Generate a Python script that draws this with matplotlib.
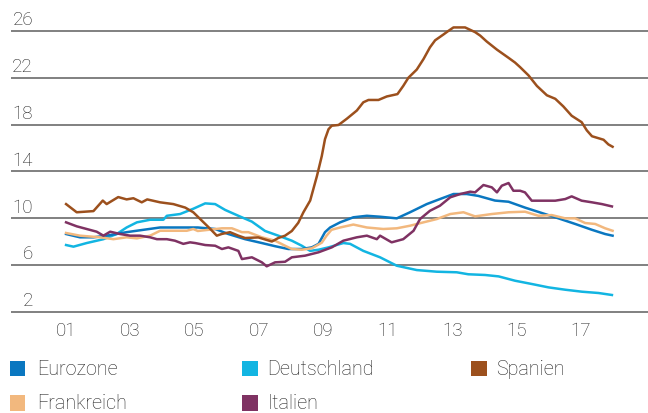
import matplotlib
matplotlib.use("Agg")
import matplotlib.pyplot as plt
from matplotlib.patches import Rectangle

# Arbeitslosenquote in %, Zeitachse als Dezimaljahr
ez_x = [2001.01, 2001.44, 2001.86, 2002.27, 2002.89, 2003.41, 2003.93, 2004.34, 2004.76,
        2005.10, 2005.64, 2006.05, 2006.57, 2007.09, 2007.50, 2007.91, 2008.33, 2008.64,
        2008.85, 2009.05, 2009.21, 2009.52, 2009.93, 2010.35, 2010.76, 2011.28, 2011.69,
        2012.21, 2012.62, 2013.04, 2013.45, 2013.81, 2014.33, 2014.75, 2015.26, 2015.78,
        2016.30, 2016.82, 2017.34, 2017.75, 2017.98]
ez_y = [8.64, 8.36, 8.36, 8.5, 8.8, 9.0, 9.2, 9.2, 9.2,
        9.2, 9.07, 8.64, 8.2, 7.87, 7.6, 7.36, 7.36, 7.5,
        7.8, 8.8, 9.2, 9.64, 10.07, 10.2, 10.12, 9.98, 10.5,
        11.2, 11.63, 12.06, 12.06, 11.9, 11.5, 11.4, 10.9, 10.44,
        9.98, 9.5, 9.0, 8.64, 8.5]

de_x = [2001.01, 2001.24, 2001.65, 2002.17, 2002.58, 2002.89, 2003.21, 2003.62, 2004.03,
        2004.14, 2004.55, 2004.96, 2005.33, 2005.64, 2005.95, 2006.36, 2006.78, 2007.19,
        2007.60, 2008.02, 2008.33, 2008.59, 2008.85, 2009.16, 2009.62, 2009.83, 2010.24,
        2010.76, 2011.28, 2011.90, 2012.52, 2013.14, 2013.50, 2014.02, 2014.44, 2014.95,
        2015.47, 2015.99, 2016.51, 2017.03, 2017.54, 2017.96]
de_y = [7.7, 7.56, 7.87, 8.2, 8.64, 9.2, 9.64, 9.86, 9.86,
        10.2, 10.35, 10.8, 11.26, 11.2, 10.7, 10.2, 9.7, 8.9,
        8.5, 8.07, 7.64, 7.2, 7.3, 7.5, 7.87, 7.8, 7.2,
        6.65, 5.93, 5.56, 5.42, 5.37, 5.2, 5.14, 5.02, 4.65,
        4.37, 4.08, 3.88, 3.71, 3.6, 3.43]

es_x = [2001.01, 2001.34, 2001.86, 2002.15, 2002.27, 2002.63, 2002.89, 2003.10, 2003.36,
        2003.53, 2003.93, 2004.34, 2004.71, 2004.96, 2005.22, 2005.48, 2005.69, 2005.85,
        2006.10, 2006.36, 2006.57, 2006.98, 2007.40, 2007.60, 2007.81, 2008.02, 2008.22,
        2008.38, 2008.59, 2008.69, 2008.80, 2008.95, 2009.05, 2009.16, 2009.26, 2009.47,
        2009.73, 2010.04, 2010.24, 2010.40, 2010.71, 2010.97, 2011.30, 2011.48, 2011.64,
        2011.90, 2012.11, 2012.31, 2012.47, 2012.73, 2012.88, 2013.04, 2013.40, 2013.71,
        2013.87, 2014.07, 2014.39, 2014.75, 2014.95, 2015.11, 2015.37, 2015.63, 2015.94,
        2016.20, 2016.45, 2016.71, 2017.02, 2017.18, 2017.34, 2017.70, 2017.85, 2017.98]
es_y = [11.2, 10.5, 10.6, 11.5, 11.2, 11.8, 11.6, 11.7, 11.35,
        11.6, 11.35, 11.2, 10.9, 10.5, 9.8, 9.1, 8.5, 8.65,
        8.8, 8.5, 8.3, 8.35, 8.0, 8.3, 8.5, 8.9, 9.6,
        10.5, 11.5, 12.5, 13.6, 15.3, 16.75, 17.6, 17.9, 17.96,
        18.5, 19.2, 19.9, 20.1, 20.1, 20.4, 20.6, 21.3, 22.0,
        22.7, 23.6, 24.6, 25.2, 25.7, 26.0, 26.3, 26.3, 25.9,
        25.6, 25.1, 24.4, 23.7, 23.3, 22.9, 22.2, 21.3, 20.5,
        20.2, 19.55, 18.75, 18.2, 17.5, 17.0, 16.7, 16.3, 16.1]

fr_x = [2001.01, 2001.44, 2002.07, 2002.48, 2002.89, 2003.21, 2003.62, 2003.93, 2004.34,
        2004.76, 2004.96, 2005.10, 2005.43, 2005.85, 2006.16, 2006.47, 2006.67, 2007.09,
        2007.50, 2007.81, 2008.02, 2008.33, 2008.64, 2008.95, 2009.10, 2009.25, 2009.52,
        2009.93, 2010.35, 2010.86, 2011.28, 2011.69, 2012.11, 2012.52, 2012.94, 2013.35,
        2013.71, 2014.23, 2014.75, 2015.26, 2015.68, 2016.09, 2016.51, 2016.82, 2017.13,
        2017.44, 2017.75, 2017.98]
fr_y = [8.73, 8.5, 8.36, 8.2, 8.36, 8.27, 8.5, 8.92, 8.92,
        8.92, 9.07, 8.9, 9.0, 9.13, 9.13, 8.8, 8.8, 8.36,
        8.07, 7.64, 7.36, 7.3, 7.42, 7.9, 8.5, 9.0, 9.2,
        9.45, 9.2, 9.07, 9.13, 9.35, 9.64, 9.92, 10.35, 10.5,
        10.15, 10.35, 10.5, 10.55, 10.2, 10.26, 9.98, 9.98, 9.58,
        9.5, 9.13, 8.92]

it_x = [2001.01, 2001.34, 2001.65, 2001.96, 2002.17, 2002.38, 2002.69, 2003.00, 2003.31,
        2003.62, 2003.83, 2004.14, 2004.39, 2004.65, 2004.86, 2005.02, 2005.33, 2005.64,
        2005.85, 2006.05, 2006.36, 2006.47, 2006.78, 2007.09, 2007.24, 2007.50, 2007.81,
        2008.02, 2008.43, 2008.85, 2009.26, 2009.62, 2010.04, 2010.35, 2010.66, 2010.76,
        2011.12, 2011.48, 2011.80, 2012.00, 2012.31, 2012.62, 2012.94, 2013.25, 2013.56,
        2013.71, 2013.97, 2014.23, 2014.39, 2014.54, 2014.75, 2014.90, 2015.11, 2015.26,
        2015.47, 2015.78, 2016.20, 2016.51, 2016.71, 2017.02, 2017.34, 2017.65, 2017.96]
it_y = [9.64, 9.3, 9.07, 8.84, 8.5, 8.84, 8.64, 8.5, 8.5,
        8.36, 8.2, 8.2, 8.07, 7.8, 7.93, 7.87, 7.7, 7.64,
        7.36, 7.5, 7.2, 6.5, 6.65, 6.22, 5.88, 6.22, 6.27,
        6.65, 6.79, 7.08, 7.5, 8.07, 8.36, 8.5, 8.2, 8.5,
        7.93, 8.2, 8.92, 9.92, 10.63, 11.06, 11.78, 12.06, 12.26,
        12.2, 12.83, 12.63, 12.2, 12.77, 13.0, 12.34, 12.34, 12.2,
        11.49, 11.49, 11.49, 11.63, 11.86, 11.49, 11.35, 11.2, 11.0]

x_ticks = list(range(2001, 2018, 2))
x_labels = ["01", "03", "05", "07", "09", "11", "13", "15", "17"]
y_ticks = [2, 6, 10, 14, 18, 22, 26]

series = [
    ("Eurozone", ez_x, ez_y, "#0a77c0"),
    ("Deutschland", de_x, de_y, "#12b5e2"),
    ("Spanien", es_x, es_y, "#9c501d"),
    ("Frankreich", fr_x, fr_y, "#f2b87e"),
    ("Italien", it_x, it_y, "#7f3263"),
]

plt.rcParams["font.family"] = ["Roboto", "DejaVu Sans"]
plt.rcParams["font.weight"] = "light"
text_col = "#222222"

fig = plt.figure(figsize=(6.48, 4.14), dpi=100)
ax = fig.add_axes([11 / 648, 100 / 414, 637 / 648, 314 / 414])
ax.set_xlim(1999.30, 2019.08)
ax.set_ylim(1.89, 28.73)

for name, xs, ys, c in [series[1], series[0], series[3], series[4], series[2]]:
    ax.plot(xs, ys, color=c, lw=1.8, solid_joinstyle="round")

for s in ax.spines.values():
    s.set_visible(False)

ax.set_yticks(y_ticks)
ax.set_yticklabels([])
ax.yaxis.grid(True, color="#5e5e5e", lw=1.1)
ax.set_axisbelow(True)
ax.tick_params(axis="y", length=0)
for v in y_ticks:
    ax.annotate(str(v), xy=(0, v), xycoords=("axes fraction", "data"),
                xytext=(22, 11.5), textcoords="offset pixels",
                ha="right", va="center", fontsize=13.5, color=text_col)

ax.set_xticks(x_ticks)
ax.set_xticklabels(x_labels, fontsize=13.5, color=text_col)
ax.tick_params(axis="x", length=0, pad=6)

# Legende
leg_cols = [(10, 36.7), (242, 267.5), (471, 496)]
leg_rows = [369.7, 404]
sq = 15.5
for i, (name, xs, ys, c) in enumerate(series):
    col = leg_cols[i % 3]
    yc = leg_rows[i // 3]
    fig.add_artist(Rectangle((col[0] / 648, 1 - (yc + sq / 2) / 414), sq / 648, sq / 414,
                             transform=fig.transFigure, color=c, lw=0))
    fig.text(col[1] / 648, 1 - yc / 414, name, ha="left", va="center",
             fontsize=14.2, color=text_col)

fig.savefig("out.png", dpi=100)
